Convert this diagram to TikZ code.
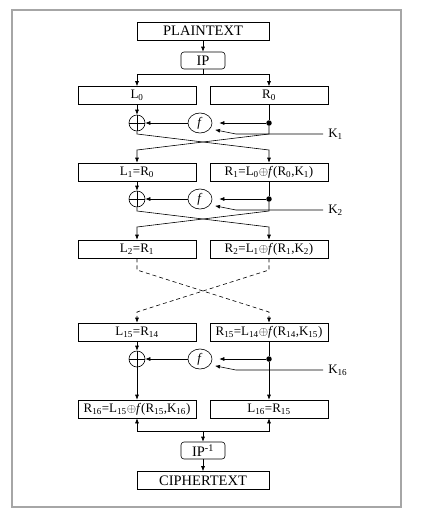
\documentclass[tikz,border=0pt]{standalone}
\usepackage{fontspec}
\setmainfont{Liberation Serif}
\usetikzlibrary{calc,arrows.meta,shapes.geometric}
\newcommand\subn[1]{\textsubscript{#1}}
\newcommand\fround[2]{
  \node[xorc] (x#1) at (137,#2) {};
  \node[fcirc] (f#1) at (200,#2) {\textit{f}};
  \node[dotc] (d#1) at (269,#2) {};
  \coordinate (kb#1) at (236,#2+11);
  \node[anchor=west,inner xsep=5pt,inner ysep=0pt] (k#1) at (323,#2+11) {K\subn{#1}};
  \draw[arr,shorten >=7pt] (d#1) -- (f#1);
  \draw[arr] (f#1) -- (x#1);
  \draw[arr,shorten >=5pt] (k#1) -- (kb#1) -- (f#1.-30);
}

\begin{document}
\begin{tikzpicture}[x=1pt,y=-1pt,line width=0.6pt,
    every node/.style={font=\fontsize{13}{15}\selectfont},
    blk/.style={draw,minimum width=118pt,minimum height=18pt,inner sep=0pt},
    wblk/.style={blk,minimum width=132pt,font=\fontsize{14.5}{16}\selectfont},
    rblk/.style={draw,rounded corners=3pt,minimum width=44pt,minimum height=17pt,inner sep=0pt,
      font=\fontsize{14.5}{16}\selectfont},
    xorc/.style={draw,circle,minimum size=16pt,inner sep=0pt,
      path picture={\draw (path picture bounding box.north) -- (path picture bounding box.south)
        (path picture bounding box.west) -- (path picture bounding box.east);}},
    fcirc/.style={draw,ellipse,minimum width=24pt,minimum height=20pt,inner sep=0pt},
    dotc/.style={circle,fill,minimum size=5.5pt,inner sep=0pt},
    arr/.style={-{Latex[length=5pt,width=4pt]}}]
      \useasboundingbox (0,0) rectangle (421,515);
      \draw[gray!70,line width=1.5pt] (12,10) rectangle (401,507);

      \node[wblk] (plain) at (203,31) {PLAINTEXT};
      \node[rblk] (ip) at (203,60.5) {IP};
      \node[blk] (l0) at (137,95.5) {L\subn{0}};
      \node[blk] (r0) at (269,95.5) {R\subn{0}};
      \node[blk] (l1) at (137,172) {L\subn{1}=R\subn{0}};
      \node[blk] (r1) at (269,172) {R\subn{1}=L\subn{0}$\oplus$\textit{f}(R\subn{0},K\subn{1})};
      \node[blk] (l2) at (137,249) {L\subn{2}=R\subn{1}};
      \node[blk] (r2) at (269,249) {R\subn{2}=L\subn{1}$\oplus$\textit{f}(R\subn{1},K\subn{2})};
      \node[blk] (l15) at (137,332) {L\subn{15}=R\subn{14}};
      \node[blk] (r15) at (269,332) {R\subn{15}=L\subn{14}$\oplus$\textit{f}(R\subn{14},K\subn{15})};
      \node[blk] (r16) at (137,409) {R\subn{16}=L\subn{15}$\oplus$\textit{f}(R\subn{15},K\subn{16})};
      \node[blk] (l16) at (269,409) {L\subn{16}=R\subn{15}};
      \node[rblk] (ipinv) at (203,450.5) {IP\textsuperscript{-1}};
      \node[wblk] (cipher) at (203,480.5) {CIPHERTEXT};

      \fround{1}{123}
      \fround{2}{199}
      \fround{16}{359}

      \coordinate (sp) at (203,74);
      \draw[arr] (plain) -- (ip);
      \draw (ip) -- (sp);
      \draw[arr] (sp) -| (l0);
      \draw[arr] (sp) -| (r0);

      \draw[arr] (l0) -- (x1);
      \draw (r0) -- (d1);
      \draw[arr] (x1) -- ++(0,11) -- ++(132,16) -- (r1);
      \draw[arr] (d1) -- ++(0,11) -- ++(-132,16) -- (l1);

      \draw[arr] (l1) -- (x2);
      \draw (r1) -- (d2);
      \draw[arr] (x2) -- ++(0,12) -- ++(132,16) -- (r2);
      \draw[arr] (d2) -- ++(0,12) -- ++(-132,16) -- (l2);

      \draw[arr,dash pattern=on 4pt off 3pt] (l2) -- ++(0,21) -- ++(132,42) -- (r15);
      \draw[arr,dash pattern=on 4pt off 3pt] (r2) -- ++(0,21) -- ++(-132,42) -- (l15);

      \draw[arr] (l15) -- (x16);
      \draw (r15) -- (d16);
      \draw[arr] (x16) -- (r16);
      \draw[arr] (d16) -- (l16);

      \coordinate (jn) at (203,431);
      \draw[arr] (jn) -| (r16);
      \draw[arr] (jn) -| (l16);
      \draw[arr] (jn) -- (ipinv);
      \draw[arr] (ipinv) -- (cipher);

    \end{tikzpicture}
\end{document}
